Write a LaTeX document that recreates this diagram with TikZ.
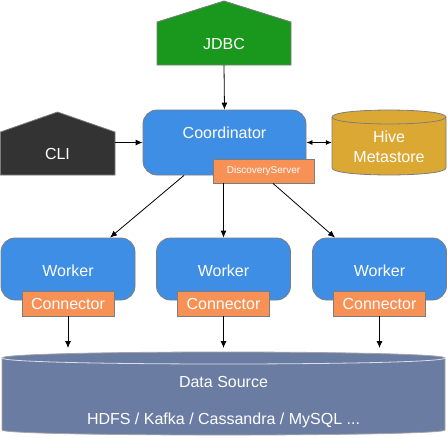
\documentclass[tikz,border=0pt]{standalone}
\usepackage{fontspec}
\setmainfont{Liberation Sans}
\usepackage{xcolor}
\usepackage{tikz}
\usetikzlibrary{arrows.meta}
\usetikzlibrary{calc}
\usetikzlibrary{positioning}

\definecolor{jdbcgreen}{RGB}{26,152,30}
\definecolor{nodeblue}{RGB}{62,142,230}
\definecolor{connorange}{RGB}{248,145,86}
\definecolor{cligray}{RGB}{51,51,51}
\definecolor{hivegold}{RGB}{220,168,52}
\definecolor{sourceslate}{RGB}{107,124,163}
\definecolor{edgegray}{RGB}{125,125,125}

\tikzset{
  txt/.style={text=white, font=\fontsize{16}{20}\selectfont, inner sep=0pt},
  hull/.style={draw=edgegray, line width=0.8pt},
  server/.style={hull, fill=nodeblue, rounded corners=14pt, inner sep=0pt},
  plug/.style={hull, fill=connorange, txt, minimum width=92pt, minimum height=25pt},
  flow/.style={-{Latex[length=7pt,width=6pt]}, line width=0.8pt},
}

\begin{document}
\begin{tikzpicture}[x=1pt, y=-1pt]
      \useasboundingbox (0,0) rectangle (447,437);

      \draw[hull, fill=jdbcgreen] (157,65) -- (157,22) -- (224,1) -- (291,22) -- (291,65) -- cycle;
      \node[txt, minimum width=134pt, minimum height=43pt] (jdbc) at (224,43.5) {JDBC};

      \draw[hull, fill=cligray] (0.4,175) -- (0.4,132) -- (57.5,112) -- (115,132) -- (115,175) -- cycle;
      \node[txt, minimum width=115pt, minimum height=43pt] (cli) at (57.5,153.5) {CLI};

      \node[server, minimum width=163pt, minimum height=65pt,
            label={[txt, yshift=9.5pt]center:Coordinator}] (coord) at (224.5,142.5) {};
      \node[hull, fill=connorange, text=white, font=\fontsize{10}{12}\selectfont,
            minimum width=101pt, minimum height=24pt, inner sep=0pt] (disc) at (263.5,171) {DiscoveryServer};

      \draw[hull, fill=hivegold] (332,117) -- (332,168) .. controls (332,177.3) and (446,177.3) .. (446,168)
        -- (446,117) .. controls (446,107.7) and (332,107.7) .. cycle;
      \draw[hull] (332,117) .. controls (332,126.3) and (446,126.3) .. (446,117);
      \node[minimum width=114pt, minimum height=65pt, inner sep=0pt,
            label={[txt, align=center, yshift=-4.5pt]center:{Hive\\Metastore}}] (hive) at (389,142.5) {};

      \foreach \i/\x in {1/68, 2/223.5, 3/379.5}{
        \node[server, minimum width=134pt, minimum height=62pt,
              label={[txt, yshift=-2pt]center:Worker}] (wk\i) at (\x,269) {};
        \node[plug] (cn\i) at (\x,303.5) {Connector};
      }

      \draw[hull, draw=edgegray!70, fill=sourceslate] (2,358) -- (2,430) .. controls (2,436.7) and (445,436.7) .. (445,430)
        -- (445,358) .. controls (445,350) and (2,350) .. cycle;
      \draw[white!75!sourceslate, line width=0.8pt] (2,358) .. controls (2,366) and (445,366) .. (445,358);
      \node[txt] (dsrc) at (223.5,382) {Data Source};
      \node[txt] (dslist) at (223.5,420) {HDFS / Kafka / Cassandra / MySQL ...};
      \coordinate (dstop) at (223.5,348);

      \draw[flow] (jdbc.south) -- (coord.north);
      \draw[flow] (cli.east |- coord.west) -- (coord.west);
      \draw[flow, {Latex[length=6pt,width=5pt]}-{Latex[length=6pt,width=5pt]}] (coord.east) -- (hive.west);
      \draw[flow] ([xshift=-40.5pt]coord.south) -- ([xshift=42pt]wk1.north);
      \draw[flow] (disc.south -| wk2.north) -- (wk2.north);
      \draw[flow] ([xshift=9.5pt]disc.south) -- ([xshift=-44.5pt]wk3.north);
      \foreach \i in {1,2,3}
        \draw[flow] (cn\i.south) -- (cn\i.south |- dstop);

    \end{tikzpicture}
\end{document}
